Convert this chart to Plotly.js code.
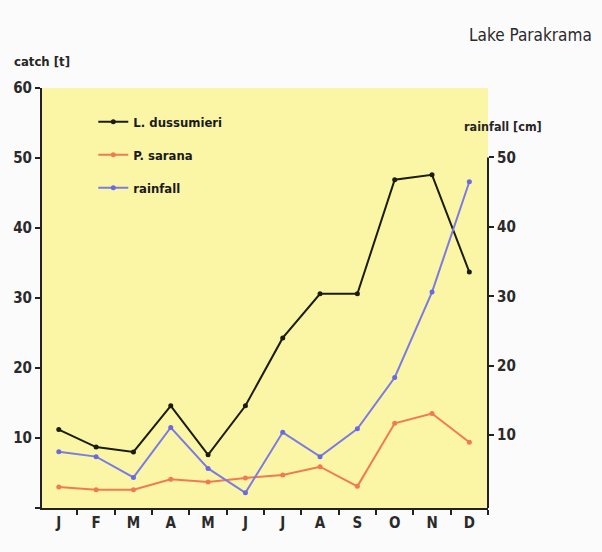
<!DOCTYPE html>
<html>
<head>
<meta charset="utf-8">
<script src="https://cdn.plot.ly/plotly-3.0.1.min.js"></script>
<style>html,body{margin:0;padding:0;background:#fbfbfb;}#chart{width:602px;height:552px;}</style>
</head>
<body>
<div id="chart"></div>
<script>
const months = ["J","F","M","A","M ","J ","J  ","A ","S","O","N","D"];
const monthLabels = ["J","F","M","A","M","J","J","A","S","O","N","D"];
const dussumieri = [11.2, 8.7, 8.0, 14.6, 7.6, 14.6, 24.3, 30.6, 30.6, 46.9, 47.6, 33.7];
const sarana = [3.0, 2.6, 2.6, 4.1, 3.7, 4.3, 4.7, 5.9, 3.1, 12.1, 13.5, 9.4];
const rainfall = [7.6, 6.9, 3.9, 11.1, 5.2, 1.7, 10.4, 6.9, 10.9, 18.3, 30.6, 46.5];
const leftTicks = [0, 10, 20, 30, 40, 50, 60];
const rightTicks = [10, 20, 30, 40, 50];

const FAM = "DejaVu Sans Condensed, Liberation Sans, Arial, sans-serif";
const fnt = {family: FAM, size: 13, color: "#262626"};
const tickFont = {family: FAM, size: 15, color: "#2a2a2a", weight: "bold"};

const traces = [
  {x: months, y: dussumieri, name: "L. dussumieri", type: "scatter", mode: "lines+markers",
   line: {color: "#1c1c0c", width: 2}, marker: {color: "#1c1c0c", size: 5, symbol: "circle"}, legendgroup: "a"},
  {x: months, y: sarana, name: "P. sarana", type: "scatter", mode: "lines+markers",
   line: {color: "#f07a55", width: 2}, marker: {color: "#f07a55", size: 5, symbol: "circle"}, legendgroup: "b"},
  {x: months, y: rainfall, name: "rainfall", type: "scatter", mode: "lines+markers", yaxis: "y2",
   line: {color: "#7b7be6", width: 2}, marker: {color: "#6a6ae0", size: 5, symbol: "circle"}, legendgroup: "c"}
];

const layout = {
  width: 602, height: 552,
  margin: {l: 42, r: 114, t: 88, b: 44},
  paper_bgcolor: "#fbfbfb",
  plot_bgcolor: "#fbf6a6",
  font: fnt,
  title: {text: "Lake Parakrama", x: 0.983, xanchor: "right", y: 0.937, yanchor: "middle",
          font: {family: FAM, size: 17, color: "#2a2a2a"}},
  showlegend: true,
  legend: {x: 0.115, y: 0.955, xanchor: "left", yanchor: "top", bgcolor: "rgba(0,0,0,0)",
           font: {family: FAM, size: 13, color: "#1a1a1a", weight: "bold"},
           tracegroupgap: 13, itemwidth: 30},
  xaxis: {type: "category", range: [-0.45, 11.5], tickmode: "array", tickvals: months, ticktext: monthLabels,
          tickson: "boundaries", ticks: "outside", ticklen: 5, tickwidth: 2, tickcolor: "#222",
          showline: true, linecolor: "#222", linewidth: 2, showgrid: false, zeroline: false,
          tickfont: tickFont, fixedrange: true},
  yaxis: {range: [0, 60], tickmode: "array", tickvals: leftTicks, ticktext: leftTicks.map(v => v === 0 ? "" : String(v)),
          ticks: "outside", ticklen: 5, tickwidth: 2, tickcolor: "#222",
          showline: true, linecolor: "#222", linewidth: 2, showgrid: false, zeroline: false,
          tickfont: tickFont},
  yaxis2: {range: [-0.5, 60], overlaying: "y", side: "right", tickmode: "array", tickvals: rightTicks,
           ticktext: rightTicks.map(String), ticks: "outside", ticklen: 5, tickwidth: 2, tickcolor: "#222",
           showline: false, showgrid: false, zeroline: false,
           tickfont: tickFont},
  shapes: [
    {type: "line", xref: "paper", x0: 1, x1: 1, yref: "y2", y0: 50, y1: -0.5, line: {color: "#222", width: 2}}
  ],
  annotations: [
    {text: "catch [t]", xref: "paper", yref: "paper", x: -0.067, y: 1.062, xanchor: "left", yanchor: "middle",
     showarrow: false, font: {family: FAM, size: 13, color: "#262626", weight: "bold"}},
    {text: "rainfall [cm]", xref: "paper", yref: "paper", x: 0.942, y: 0.9095, xanchor: "left", yanchor: "middle",
     showarrow: false, font: {family: FAM, size: 12.5, color: "#262626", weight: "bold"}}
  ]
};

Plotly.newPlot("chart", traces, layout, {staticPlot: true, displayModeBar: false});
</script>
</body>
</html>
